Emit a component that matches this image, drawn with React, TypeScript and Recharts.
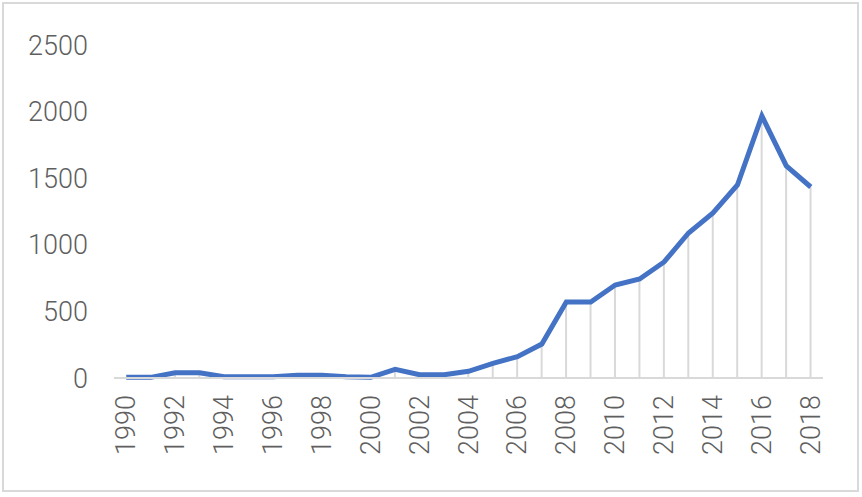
import React from 'react';
import { ComposedChart, Line, Bar, XAxis, YAxis } from 'recharts';

const years = [
  '1990','1991','1992','1993','1994','1995','1996','1997','1998','1999',
  '2000','2001','2002','2003','2004','2005','2006','2007','2008','2009',
  '2010','2011','2012','2013','2014','2015','2016','2017','2018',
];
const counts = [
  5, 5, 40, 40, 10, 10, 10, 20, 20, 10,
  5, 65, 25, 25, 50, 110, 160, 255, 570, 570,
  698, 743, 871, 1089, 1239, 1449, 1967, 1592, 1434,
];
const yTicks = [0, 500, 1000, 1500, 2000, 2500];

const data = years.map((y, i) => ({ year: y, value: counts[i] }));

const FONT = 'Roboto, "Liberation Sans", Arial, sans-serif';
const TEXT_COLOR = '#5f5f5f';

const XTick = (props: any) => {
  const { x, y, payload } = props;
  return (
    <text
      x={x}
      y={y}
      transform={`rotate(-90, ${x}, ${y})`}
      textAnchor="end"
      dominantBaseline="central"
      fontSize={27}
      fontWeight={300}
      fontFamily={FONT}
      fill={TEXT_COLOR}
    >
      {payload.value}
    </text>
  );
};

export default function App() {
  return (
    <div style={{ position: 'absolute', left: 0, top: 0, width: 862, height: 497, background: '#fff' }}>
      <div
        style={{
          position: 'absolute',
          left: 2,
          top: 2,
          width: 853,
          height: 486,
          border: '2px solid #d9d9d9',
        }}
      />
      <div style={{ position: 'absolute', left: 0, top: 0 }}>
        <ComposedChart
          width={862}
          height={497}
          data={data}
          margin={{ top: 45, right: 39, bottom: 0, left: 0 }}
        >
          <XAxis
            dataKey="year"
            interval={1}
            tickLine={false}
            axisLine={{ stroke: '#d9d9d9', strokeWidth: 2 }}
            height={119}
            tickSize={0}
            tickMargin={17}
            tick={<XTick />}
          />
          <YAxis
            domain={[0, 2500]}
            ticks={yTicks}
            axisLine={false}
            tickLine={false}
            tickSize={0}
            tickMargin={26}
            width={114}
            tick={{ fontSize: 27, fontWeight: 300, fontFamily: FONT, fill: TEXT_COLOR }}
          />
          <Bar dataKey="value" barSize={2} fill="#d9d9d9" isAnimationActive={false} />
          <Line
            type="linear"
            dataKey="value"
            stroke="#4472C4"
            strokeWidth={5}
            dot={false}
            activeDot={false}
            isAnimationActive={false}
          />
        </ComposedChart>
      </div>
    </div>
  );
}
